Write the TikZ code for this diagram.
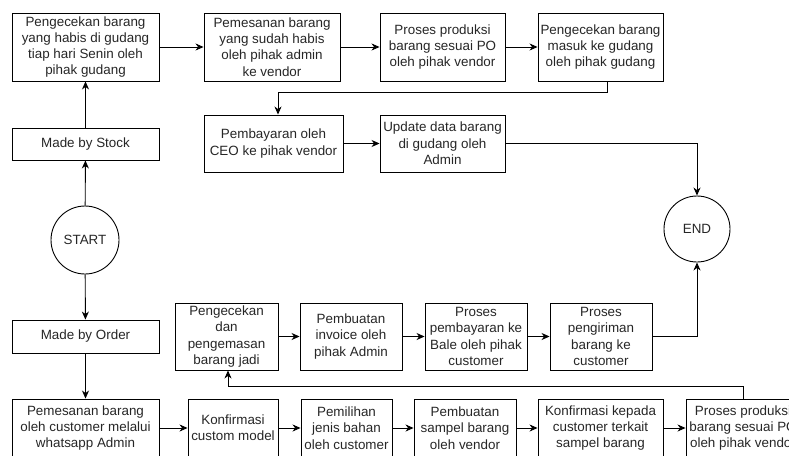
\documentclass[tikz,border=0pt]{standalone}
\usepackage{fontspec}
\setmainfont{Liberation Sans}
\usepackage{tikz}
\usetikzlibrary{%
  arrows.meta,%
  calc%
}

\begin{document}
\begin{tikzpicture}[x=1pt,y=1pt,
  kotak/.style={draw,line width=0.9pt,align=center,inner sep=1pt,
    text=black!85,font=\fontsize{13.4}{16.3}\selectfont},
  bulat/.style={draw,circle,line width=0.9pt,inner sep=0pt,
    text=black!85,font=\fontsize{13.4}{16.3}\selectfont},
  panah/.style={line width=0.9pt,-{Stealth[length=8pt,width=7pt,inset=2.5pt]}}]
\useasboundingbox (0,0) rectangle (789,-455);
\clip (0,0) rectangle (789,-455);

\node[kotak,minimum width=147,minimum height=68] (cek) at (85.5,-47)
  {Pengecekan barang\\yang habis di gudang\\tiap hari Senin oleh\\pihak gudang};
\node[kotak,minimum width=136,minimum height=68] (pesan) at (272,-47)
  {Pemesanan barang\\yang sudah habis\\oleh pihak admin\\ke vendor};
\node[kotak,minimum width=125,minimum height=68] (produksi) at (442.5,-47)
  {Proses produksi\\barang sesuai PO\\oleh pihak vendor};
\node[kotak,minimum width=125,minimum height=68] (masuk) at (600.5,-47)
  {Pengecekan barang\\masuk ke gudang\\oleh pihak gudang};
\node[kotak,minimum width=139,minimum height=57] (bayar) at (273.5,-143.5)
  {Pembayaran oleh\\CEO ke pihak vendor};
\node[kotak,minimum width=125,minimum height=57] (update) at (442.5,-143.5)
  {Update data barang\\di gudang oleh\\Admin};

\node[kotak,minimum width=147,minimum height=32] (stock) at (85.5,-144) {Made by Stock};
\node[bulat,minimum size=68] (start) at (85,-240) {START};
\node[bulat,minimum size=66] (end) at (697,-229) {END};
\node[kotak,minimum width=147,minimum height=33] (order) at (85.5,-336.5) {Made by Order};

\node[kotak,minimum width=103,minimum height=67] (kemas) at (226.5,-336.5)
  {Pengecekan\\dan\\pengemasan\\barang jadi};
\node[kotak,minimum width=102,minimum height=67] (invoice) at (351,-336.5)
  {Pembuatan\\invoice oleh\\pihak Admin};
\node[kotak,minimum width=102,minimum height=67] (lunas) at (476,-336.5)
  {Proses\\pembayaran ke\\Bale oleh pihak\\customer};
\node[kotak,minimum width=102,minimum height=67] (kirim) at (601,-336.5)
  {Proses\\pengiriman\\barang ke\\customer};

\node[kotak,minimum width=147,minimum height=58] (order1) at (85.5,-428)
  {Pemesanan barang\\oleh customer melalui\\whatsapp Admin};
\node[kotak,minimum width=90,minimum height=58] (order2) at (233,-428)
  {Konfirmasi\\custom model};
\node[kotak,minimum width=91,minimum height=58] (order3) at (346.5,-428)
  {Pemilihan\\jenis bahan\\oleh customer};
\node[kotak,minimum width=102,minimum height=58] (order4) at (465,-428)
  {Pembuatan\\sampel barang\\oleh vendor};
\node[kotak,minimum width=125,minimum height=58] (order5) at (600.5,-428)
  {Konfirmasi kepada\\customer terkait\\sampel barang};
\node[kotak,minimum width=114,minimum height=58] (order6) at (743,-428)
  {Proses produksi\\barang sesuai PO\\oleh pihak vendor};

\draw[panah] (start) -- (stock);
\draw[panah] (stock) -- (cek);
\draw[panah] (cek) -- (pesan);
\draw[panah] (pesan) -- (produksi);
\draw[panah] (produksi) -- (masuk);
\draw[panah] ([xshift=6.5]masuk.south) -- ++(0,-11) -| ([xshift=4.5]bayar.north);
\draw[panah] (bayar) -- (update);
\draw[panah] (update.east) -| (end.north);

\draw[panah] (start) -- (order);
\draw[panah] (order) -- (order1);
\draw[panah] (order1) -- (order2);
\draw[panah] (order2) -- (order3);
\draw[panah] (order3) -- (order4);
\draw[panah] (order4) -- (order5);
\draw[panah] (order5) -- (order6);
\draw[panah] (order6.north) -- ++(0,12) -| ([xshift=1.5]kemas.south);
\draw[panah] (kemas) -- (invoice);
\draw[panah] (invoice) -- (lunas);
\draw[panah] (lunas) -- (kirim);
\draw[panah] (kirim.east) -| (end.south);
\end{tikzpicture}
\end{document}
